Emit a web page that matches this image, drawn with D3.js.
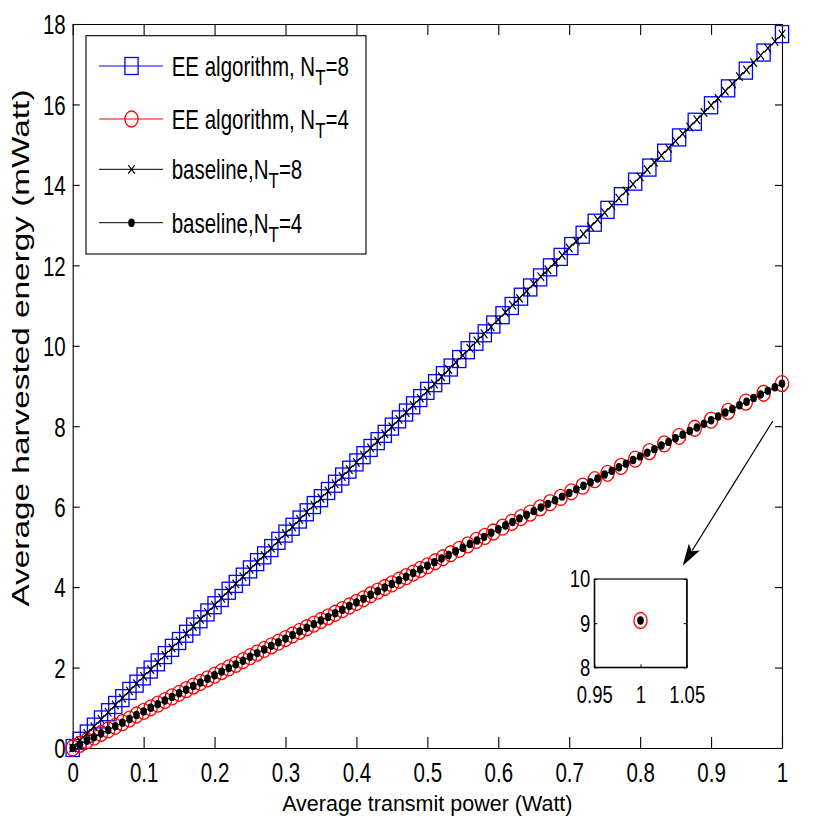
<!DOCTYPE html>
<html>
<head>
<meta charset="utf-8">
<script src="https://cdn.jsdelivr.net/npm/d3@7"></script>
<style>
  body { margin: 0; background: #fff; }
  text { font-family: "Liberation Sans", Arial, Helvetica, sans-serif; fill: #000; }
</style>
</head>
<body>
<svg id="chart" width="831" height="831"></svg>
<script>
"use strict";

// ---- data ----
const baseX = [0,0.01,0.02,0.03,0.04,0.05,0.06,0.07,0.08,0.09,0.1,0.11,0.12,0.13,0.14,0.15,0.16,0.17,0.18,0.19,
  0.2,0.21,0.22,0.23,0.24,0.25,0.26,0.27,0.28,0.29,0.3,0.31,0.32,0.33,0.34,0.35,0.36,0.37,0.38,0.39,
  0.4,0.41,0.42,0.43,0.44,0.45,0.46,0.47,0.48,0.49,0.5,0.51,0.52,0.53,0.54,0.55,0.56,0.57,0.58,0.59,
  0.6,0.61,0.62,0.63,0.64,0.65,0.66,0.67,0.68,0.69,0.7,0.71,0.72,0.73,0.74,0.75,0.76,0.77,0.78,0.79,
  0.8,0.81,0.82,0.83,0.84,0.85,0.86,0.87,0.88,0.89,0.9,0.91,0.92,0.93,0.94,0.95,0.96,0.97,0.98,0.99,1];

const base8Y = [0,0.18,0.36,0.53,0.71,0.89,1.07,1.24,1.42,1.6,1.78,1.95,2.13,2.31,2.49,2.66,2.84,3.02,3.2,3.37,
  3.55,3.73,3.91,4.08,4.26,4.44,4.62,4.79,4.97,5.15,5.33,5.5,5.68,5.86,6.04,6.21,6.39,6.57,6.75,6.92,
  7.1,7.28,7.46,7.63,7.81,7.99,8.17,8.34,8.52,8.7,8.88,9.05,9.23,9.41,9.59,9.76,9.94,10.12,10.3,10.47,
  10.65,10.83,11.01,11.18,11.36,11.54,11.72,11.89,12.07,12.25,12.43,12.6,12.78,12.96,13.14,13.31,13.49,13.67,13.85,14.02,
  14.2,14.38,14.56,14.73,14.91,15.09,15.27,15.44,15.62,15.8,15.98,16.15,16.33,16.51,16.69,16.86,17.04,17.22,17.4,17.57,17.75];

const base4Y = [0,0.09,0.18,0.27,0.36,0.45,0.54,0.63,0.72,0.82,0.91,1,1.09,1.18,1.27,1.36,1.45,1.54,1.63,1.72,
  1.81,1.9,1.99,2.08,2.17,2.27,2.36,2.45,2.54,2.63,2.72,2.81,2.9,2.99,3.08,3.17,3.26,3.35,3.44,3.53,
  3.62,3.71,3.81,3.9,3.99,4.08,4.17,4.26,4.35,4.44,4.53,4.62,4.71,4.8,4.89,4.98,5.07,5.16,5.25,5.35,
  5.44,5.53,5.62,5.71,5.8,5.89,5.98,6.07,6.16,6.25,6.34,6.43,6.52,6.61,6.7,6.8,6.89,6.98,7.07,7.16,
  7.25,7.34,7.43,7.52,7.61,7.7,7.79,7.88,7.97,8.06,8.15,8.24,8.34,8.43,8.52,8.61,8.7,8.79,8.88,8.97,9.06];

const eeX = [0,0.01,0.02,0.03,0.04,0.05,0.06,0.07,0.08,0.09,0.1,0.11,0.12,0.13,0.14,0.15,0.16,0.17,0.18,0.19,
  0.2,0.21,0.22,0.23,0.24,0.25,0.26,0.27,0.28,0.29,0.3,0.31,0.32,0.33,0.34,0.35,0.36,0.37,0.38,0.39,
  0.4,0.41,0.42,0.43,0.44,0.45,0.46,0.47,0.48,0.49,0.5,
  0.511,0.522,0.533,0.545,0.557,0.569,0.581,0.593,0.606,0.619,0.632,0.645,0.659,0.673,0.688,
  0.703,0.719,0.736,0.754,0.773,0.793,0.813,0.834,0.855,0.877,0.9,0.924,0.949,0.974,1];

const ee8Y = [0,0.18,0.36,0.53,0.71,0.89,1.07,1.24,1.42,1.6,1.78,1.95,2.13,2.31,2.49,2.66,2.84,3.02,3.2,3.37,
  3.55,3.73,3.91,4.08,4.26,4.44,4.62,4.79,4.97,5.15,5.33,5.5,5.68,5.86,6.04,6.21,6.39,6.57,6.75,6.92,
  7.1,7.28,7.46,7.63,7.81,7.99,8.17,8.34,8.52,8.7,8.88,
  9.07,9.27,9.46,9.67,9.89,10.1,10.31,10.53,10.76,10.99,11.22,11.45,11.7,11.95,12.21,
  12.48,12.76,13.06,13.38,13.72,14.08,14.43,14.8,15.18,15.57,15.98,16.4,16.84,17.29,17.75];

const ee4Y = [0,0.09,0.18,0.27,0.36,0.45,0.54,0.63,0.72,0.82,0.91,1,1.09,1.18,1.27,1.36,1.45,1.54,1.63,1.72,
  1.81,1.9,1.99,2.08,2.17,2.27,2.36,2.45,2.54,2.63,2.72,2.81,2.9,2.99,3.08,3.17,3.26,3.35,3.44,3.53,
  3.62,3.71,3.81,3.9,3.99,4.08,4.17,4.26,4.35,4.44,4.53,
  4.63,4.73,4.83,4.94,5.05,5.16,5.26,5.37,5.49,5.61,5.73,5.84,5.97,6.1,6.23,
  6.37,6.51,6.67,6.83,7,7.18,7.37,7.56,7.75,7.95,8.15,8.37,8.6,8.82,9.06];

const xTicks = [0,0.1,0.2,0.3,0.4,0.5,0.6,0.7,0.8,0.9,1];
const yTicks = [0,2,4,6,8,10,12,14,16,18];

// zoomed inset around the last point of the N_T=4 curves
const insetX = [1];
const insetY = [9.06];
const insetXTicks = [0.95,1,1.05];
const insetYTicks = [8,9,10];

const legendNames = ["EE algorithm, N", "EE algorithm, N", "baseline,N", "baseline,N"];
const legendTails = ["=8", "=4", "=8", "=4"];

// arrow from the curve end down to the inset (data units)
const arrowFrom = [0.987, 8.13];
const arrowTo = [0.86, 4.53];

// ---- layout ----
const SY = 1.33; // the figure is stretched vertically
const svg = d3.select("#chart");
const plot = { left: 72.7, right: 782, top: 24, bottom: 748 };

const x = d3.scaleLinear().domain([0, 1]).range([plot.left, plot.right]);
const y = d3.scaleLinear().domain([0, 18]).range([plot.bottom, plot.top]);

const series = [
  { xs: eeX, ys: ee8Y, color: "#0000ff", marker: "square" },
  { xs: eeX, ys: ee4Y, color: "#ff0000", marker: "circle" },
  { xs: baseX, ys: base8Y, color: "#000000", marker: "cross" },
  { xs: baseX, ys: base4Y, color: "#000000", marker: "dot" }
];

function addMarker(sel, type, color) {
  if (type === "square") {
    sel.append("rect").attr("x", -6.6).attr("y", -8.5).attr("width", 13.2).attr("height", 17)
      .attr("fill", "none").attr("stroke", color).attr("stroke-width", 1.3);
  } else if (type === "circle") {
    sel.append("ellipse").attr("rx", 6.6).attr("ry", 8).attr("fill", "none")
      .attr("stroke", color).attr("stroke-width", 1.3);
  } else if (type === "cross") {
    sel.append("path").attr("d", "M-3.3,-4.3L3.3,4.3M-3.3,4.3L3.3,-4.3")
      .attr("stroke", color).attr("stroke-width", 1.2).attr("fill", "none");
  } else {
    sel.append("ellipse").attr("rx", 3.3).attr("ry", 4.2).attr("fill", color);
  }
}

function stretchText(sel, dx, dy) {
  sel.attr("transform", "translate(" + dx + "," + dy + ") scale(1," + SY + ")");
}

// ---- axes (MATLAB style box, ticks pointing inward) ----
const gx = svg.append("g")
  .attr("transform", "translate(0," + plot.bottom + ")")
  .call(d3.axisBottom(x).tickValues(xTicks).tickSize(-11).tickSizeOuter(0)
    .tickFormat(d3.format("~g")));
const gy = svg.append("g")
  .attr("transform", "translate(" + plot.left + ",0)")
  .call(d3.axisLeft(y).tickValues(yTicks).tickSize(-7).tickSizeOuter(0));
const gxt = svg.append("g")
  .attr("transform", "translate(0," + plot.top + ")")
  .call(d3.axisTop(x).tickValues(xTicks).tickSize(-11).tickSizeOuter(0).tickFormat(""));
const gyr = svg.append("g")
  .attr("transform", "translate(" + plot.right + ",0)")
  .call(d3.axisRight(y).tickValues(yTicks).tickSize(-7).tickSizeOuter(0).tickFormat(""));

[gx, gy, gxt, gyr].forEach(g => {
  g.attr("font-size", 20.5).attr("font-family", null);
  g.selectAll("path, line").attr("stroke", "#000").attr("stroke-width", 1.1);
});

gx.selectAll(".tick text").attr("y", 0).attr("dy", "0.36em")
  .each(function() { stretchText(d3.select(this), 0, 24); });
gy.selectAll(".tick text").attr("x", -7).attr("dy", "0.36em")
  .each(function() { stretchText(d3.select(this), 0, 0); });

// ---- series ----
const line = d3.line().x(d => x(d[0])).y(d => y(d[1]));

series.forEach(s => {
  const pts = d3.zip(s.xs, s.ys);
  svg.append("path").datum(pts)
    .attr("d", line)
    .attr("fill", "none")
    .attr("stroke", s.color)
    .attr("stroke-width", 1);
  svg.append("g").selectAll("g").data(pts).join("g")
    .attr("transform", d => "translate(" + x(d[0]) + "," + y(d[1]) + ")")
    .each(function() { addMarker(d3.select(this), s.marker, s.color); });
});

// ---- axis labels ----
svg.append("text")
  .attr("x", (plot.left + plot.right) / 2).attr("y", 811)
  .attr("text-anchor", "middle").attr("font-size", 21.5)
  .text("Average transmit power (Watt)");

svg.append("text")
  .attr("transform", "translate(29,348) rotate(-90)")
  .attr("text-anchor", "middle").attr("font-size", 24)
  .attr("textLength", 517).attr("lengthAdjust", "spacingAndGlyphs")
  .text("Average harvested energy (mWatt)");

// ---- legend ----
const legend = { left: 86, top: 35.7, right: 366, bottom: 254 };
svg.append("rect")
  .attr("x", legend.left).attr("y", legend.top)
  .attr("width", legend.right - legend.left).attr("height", legend.bottom - legend.top)
  .attr("fill", "#fff").attr("stroke", "#000").attr("stroke-width", 1.1);

const rowY = [66, 119, 169.3, 222.7];
series.forEach((s, i) => {
  const row = svg.append("g").attr("transform", "translate(0," + rowY[i] + ")");
  row.append("line").attr("x1", 99).attr("x2", 163).attr("stroke", s.color).attr("stroke-width", 1);
  addMarker(row.append("g").attr("transform", "translate(131.5,0)"), s.marker, s.color);
  const t = row.append("text").attr("x", 171.7).attr("y", 0).attr("dy", "0.36em")
    .attr("font-size", 20.5)
    .attr("transform", "scale(1," + SY + ")");
  t.append("tspan").text(legendNames[i]);
  t.append("tspan").attr("dy", 7).attr("font-size", 17).text("T");
  t.append("tspan").attr("dy", -7).text(legendTails[i]);
});

// ---- inset ----
const inset = { left: 594.3, right: 686.7, top: 579, bottom: 667.3 };
const ix = d3.scaleLinear().domain([0.95, 1.05]).range([inset.left, inset.right]);
const iy = d3.scaleLinear().domain([8, 10]).range([inset.bottom, inset.top]);

svg.append("rect")
  .attr("x", inset.left).attr("y", inset.top)
  .attr("width", inset.right - inset.left).attr("height", inset.bottom - inset.top)
  .attr("fill", "#fff").attr("stroke", "#000").attr("stroke-width", 1.2);

const igx = svg.append("g").attr("transform", "translate(0," + inset.bottom + ")")
  .call(d3.axisBottom(ix).tickValues(insetXTicks).tickSize(-3).tickSizeOuter(0)
    .tickFormat(d3.format("~g")));
const igy = svg.append("g").attr("transform", "translate(" + inset.left + ",0)")
  .call(d3.axisLeft(iy).tickValues(insetYTicks).tickSize(-3).tickSizeOuter(0)
    .tickFormat(d3.format("~g")));
svg.append("g").attr("transform", "translate(" + inset.right + ",0)")
  .call(d3.axisRight(iy).tickValues(insetYTicks).tickSize(-3).tickSizeOuter(0).tickFormat(""));
[igx, igy].forEach(g => {
  g.attr("font-size", 18.5).attr("font-family", null);
  g.selectAll("path, line").attr("stroke", "#000");
});
igx.selectAll(".tick text").attr("y", 0).attr("dy", "0.36em")
  .each(function() { stretchText(d3.select(this), 0, 27); });
igy.selectAll(".tick text").attr("x", -4).attr("dy", "0.36em")
  .each(function() { stretchText(d3.select(this), 0, -1); });

const insetPts = d3.zip(insetX, insetY);
[series[1], series[3]].forEach(s => {
  svg.append("g").selectAll("g").data(insetPts).join("g")
    .attr("transform", d => "translate(" + ix(d[0]) + "," + iy(d[1]) + ")")
    .each(function() { addMarker(d3.select(this), s.marker, s.color); });
});

// ---- arrow ----
const ax0 = x(arrowFrom[0]), ay0 = y(arrowFrom[1]);
const ax1 = x(arrowTo[0]), ay1 = y(arrowTo[1]);
const len = Math.hypot(ax1 - ax0, ay1 - ay0);
const ux = (ax1 - ax0) / len, uy = (ay1 - ay0) / len;
const headL = 22, headW = 6.5;
const bx = ax1 - ux * headL, by = ay1 - uy * headL;
svg.append("line")
  .attr("x1", ax0).attr("y1", ay0).attr("x2", bx + ux * 4).attr("y2", by + uy * 4)
  .attr("stroke", "#000").attr("stroke-width", 1.2);
svg.append("path")
  .attr("d", "M" + ax1 + "," + ay1 +
    "L" + (bx - uy * headW) + "," + (by + ux * headW) +
    "L" + (bx + ux * 5) + "," + (by + uy * 5) +
    "L" + (bx + uy * headW) + "," + (by - ux * headW) + "Z")
  .attr("fill", "#000");
</script>
</body>
</html>
